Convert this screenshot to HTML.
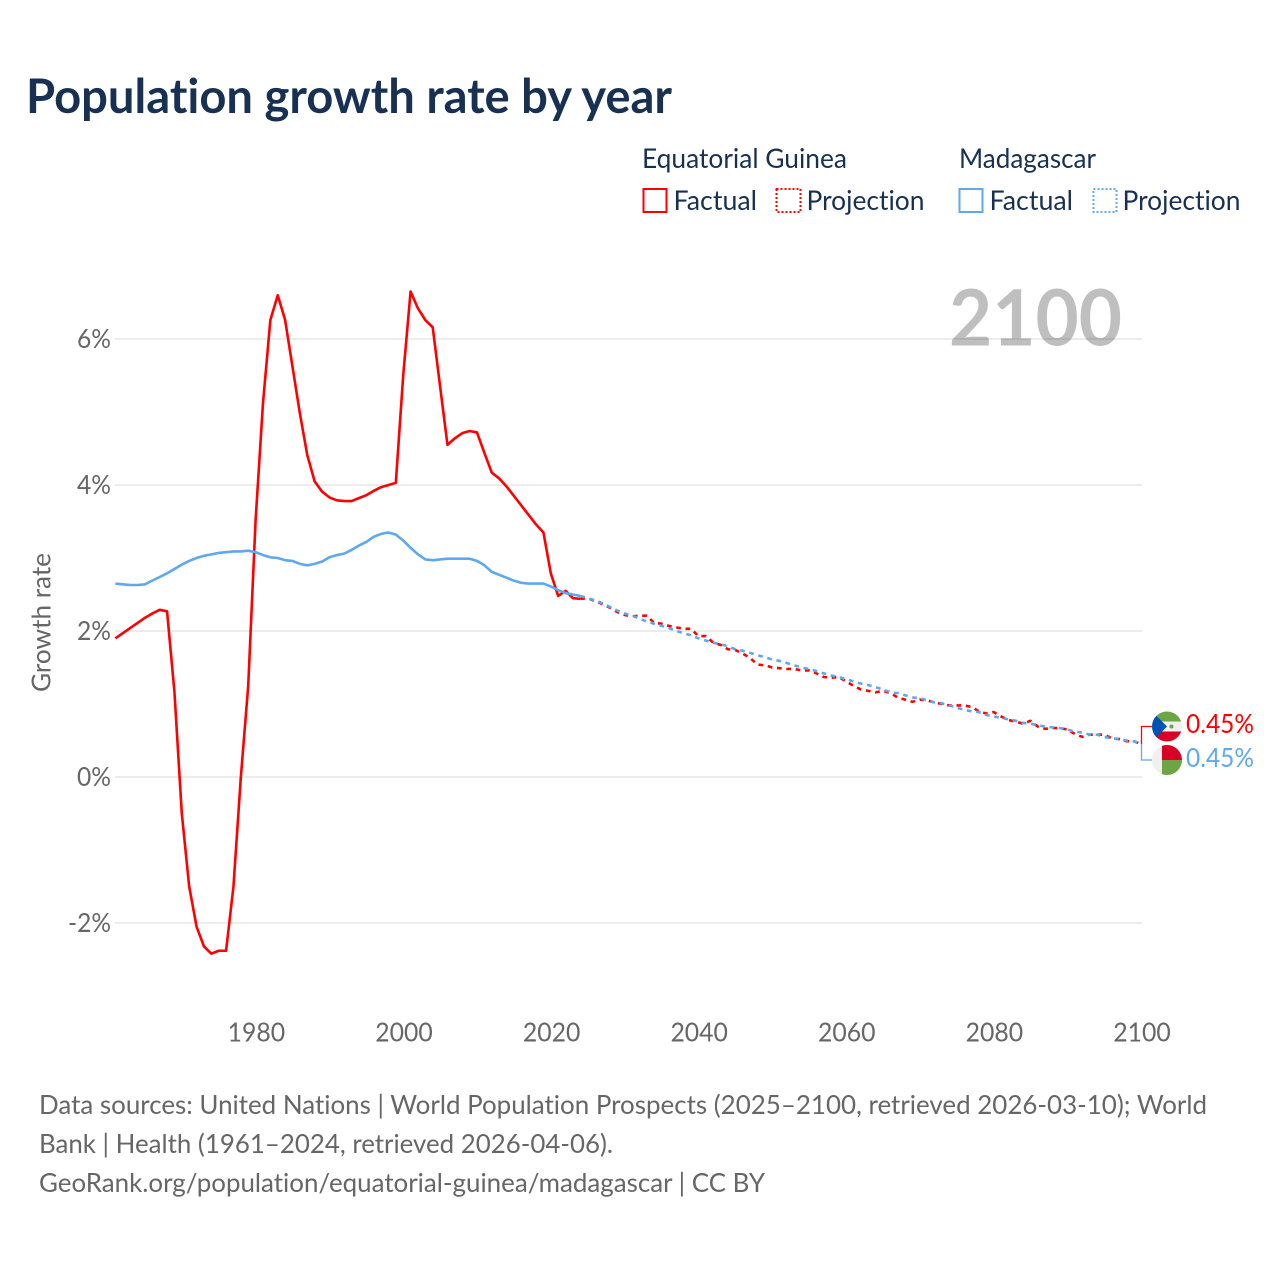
<!DOCTYPE html>
<html lang="en">
<head>
<meta charset="utf-8">
<title>Population growth rate by year</title>
<style>
html,body{margin:0;padding:0;background:#fff;}
svg{display:block;}
text{font-family:"Lato","Carlito","Liberation Sans",sans-serif;font-variant-ligatures:none;}
</style>
</head>
<body>
<svg id="chart" xmlns="http://www.w3.org/2000/svg" width="1280" height="1280" viewBox="0 0 1280 1280">
  <defs>
    <clipPath id="flag-clip-top"><circle cx="1167" cy="726.5" r="15"/></clipPath>
    <clipPath id="flag-clip-bottom"><circle cx="1167" cy="760" r="15"/></clipPath>
  </defs>
  <rect x="0" y="0" width="1280" height="1280" fill="#fff"/>
  <text x="26" y="113" font-size="48" font-weight="700" fill="#183153" textLength="646" lengthAdjust="spacingAndGlyphs">Population growth rate by year</text>

  <g font-size="27" fill="#183153">
    <text x="642" y="168" textLength="205" lengthAdjust="spacingAndGlyphs">Equatorial Guinea</text>
    <text x="959" y="168" textLength="137" lengthAdjust="spacingAndGlyphs">Madagascar</text>
    <rect x="643.5" y="189" width="23" height="23" fill="none" stroke="#ff0000" stroke-width="2"/>
    <text x="673.5" y="210" textLength="83.5" lengthAdjust="spacingAndGlyphs">Factual</text>
    <rect x="776.5" y="189" width="24" height="23" fill="none" stroke="#ff0000" stroke-width="2" stroke-dasharray="2 2"/>
    <text x="806.5" y="210" textLength="118" lengthAdjust="spacingAndGlyphs">Projection</text>
    <rect x="959.5" y="189" width="23" height="23" fill="none" stroke="#5fa8ee" stroke-width="2"/>
    <text x="989.5" y="210" textLength="83.5" lengthAdjust="spacingAndGlyphs">Factual</text>
    <rect x="1093.5" y="189" width="23" height="23" fill="none" stroke="#5fa8ee" stroke-width="2" stroke-dasharray="2 2"/>
    <text x="1122.5" y="210" textLength="118" lengthAdjust="spacingAndGlyphs">Projection</text>
  </g>

  <g id="grid"></g>
  <text x="949" y="345.5" font-size="78" font-weight="700" fill="rgba(0,0,0,0.25)" textLength="173" lengthAdjust="spacingAndGlyphs">2100</text>
  <g id="yticks"></g>
  <g id="xticks"></g>
  <text transform="translate(50.5 622.5) rotate(-90)" text-anchor="middle" font-size="26" fill="#666" textLength="139" lengthAdjust="spacingAndGlyphs">Growth rate</text>
  <g id="series"></g>

  <path id="connector-eq" fill="none" stroke="#ff0000" stroke-width="1.3"/>
  <path id="connector-mad" fill="none" stroke="#5fa8ee" stroke-width="1.3"/>

  <g clip-path="url(#flag-clip-top)">
    <rect x="1152" y="711.5" width="30" height="10" fill="#6da544"/>
    <rect x="1152" y="721.5" width="30" height="10" fill="#f0f0f0"/>
    <rect x="1152" y="731.5" width="30" height="10" fill="#d80027"/>
    <polygon points="1152,711.5 1167,726.5 1152,741.5" fill="#0052b4"/>
    <circle cx="1171.5" cy="726.5" r="2" fill="#6da544"/>
  </g>
  <g clip-path="url(#flag-clip-bottom)">
    <rect x="1152" y="745" width="10" height="30" fill="#f0f0f0"/>
    <rect x="1162" y="745" width="20" height="15" fill="#d80027"/>
    <rect x="1162" y="760" width="20" height="15" fill="#6da544"/>
  </g>
  <text id="end-label-eq" x="1186" y="733" font-size="26" fill="#ff0000" textLength="68" lengthAdjust="spacingAndGlyphs"></text>
  <text id="end-label-mad" x="1186" y="767" font-size="26" fill="#5fa8ee" textLength="68" lengthAdjust="spacingAndGlyphs"></text>

  <g font-size="26.5" fill="#666">
    <text x="39" y="1114" textLength="1168" lengthAdjust="spacingAndGlyphs">Data sources: United Nations | World Population Prospects (2025–2100, retrieved 2026-03-10); World</text>
    <text x="39" y="1153" textLength="574" lengthAdjust="spacingAndGlyphs">Bank | Health (1961–2024, retrieved 2026-04-06).</text>
    <text x="39" y="1192" textLength="726" lengthAdjust="spacingAndGlyphs">GeoRank.org/population/equatorial-guinea/madagascar | CC BY</text>
  </g>
</svg>
<script>
const yTicks = [6, 4, 2, 0, -2];
const xTicks = [1980, 2000, 2020, 2040, 2060, 2080, 2100];
const factualStartYear = 1961;
const projectionStartYear = 2024;
const eqFactual = [1.90,1.97,2.04,2.11,2.18,2.24,2.29,2.27,1.17,-0.50,-1.50,-2.05,-2.32,-2.42,-2.38,-2.38,-1.50,0.00,1.25,3.52,5.12,6.26,6.60,6.26,5.62,4.98,4.41,4.05,3.91,3.83,3.79,3.78,3.78,3.82,3.86,3.92,3.97,4.00,4.03,5.50,6.65,6.42,6.26,6.16,5.35,4.55,4.64,4.71,4.74,4.72,4.44,4.17,4.09,3.98,3.85,3.72,3.59,3.46,3.35,2.79,2.48,2.55,2.45,2.44];
const madFactual = [2.65,2.64,2.63,2.63,2.64,2.69,2.74,2.79,2.85,2.91,2.96,3.00,3.03,3.05,3.07,3.08,3.09,3.09,3.10,3.08,3.04,3.01,3.00,2.97,2.96,2.92,2.90,2.92,2.95,3.01,3.04,3.06,3.11,3.17,3.22,3.29,3.33,3.35,3.32,3.24,3.14,3.05,2.98,2.97,2.98,2.99,2.99,2.99,2.99,2.96,2.90,2.81,2.77,2.73,2.69,2.66,2.65,2.65,2.65,2.61,2.56,2.52,2.50,2.48];
const eqProjection = [2.44,2.45,2.41,2.37,2.32,2.26,2.22,2.20,2.21,2.21,2.11,2.10,2.07,2.05,2.03,2.03,1.93,1.93,1.84,1.81,1.75,1.74,1.69,1.63,1.54,1.53,1.50,1.49,1.48,1.48,1.46,1.46,1.42,1.37,1.36,1.37,1.31,1.25,1.20,1.18,1.16,1.18,1.15,1.09,1.06,1.03,1.06,1.05,1.02,1.00,0.98,0.98,0.98,0.96,0.90,0.87,0.89,0.83,0.78,0.76,0.73,0.77,0.69,0.66,0.67,0.67,0.65,0.59,0.55,0.58,0.58,0.58,0.53,0.52,0.49,0.49,0.45];
const madProjection = [2.48,2.45,2.42,2.38,2.33,2.28,2.24,2.21,2.17,2.13,2.10,2.07,2.04,2.00,1.97,1.94,1.90,1.87,1.84,1.82,1.79,1.75,1.73,1.70,1.67,1.64,1.61,1.59,1.56,1.53,1.50,1.48,1.45,1.42,1.39,1.37,1.34,1.31,1.28,1.26,1.23,1.20,1.16,1.15,1.12,1.09,1.08,1.05,1.02,1.01,0.98,0.95,0.92,0.90,0.89,0.85,0.83,0.81,0.79,0.77,0.74,0.73,0.71,0.69,0.68,0.67,0.65,0.62,0.61,0.58,0.58,0.55,0.53,0.52,0.50,0.49,0.45];

const SVG_NS = 'http://www.w3.org/2000/svg';
function xScale(year) { return 255.6 + (year - 1980) * 7.38; }
function yScale(value) { return 777 - value * 73; }
function linePath(startYear, values) {
  return values.map(function (v, i) {
    return (i ? 'L' : 'M') + xScale(startYear + i).toFixed(2) + ' ' + yScale(v).toFixed(2);
  }).join(' ');
}

const grid = document.getElementById('grid');
const yGroup = document.getElementById('yticks');
yTicks.forEach(function (t) {
  const line = document.createElementNS(SVG_NS, 'line');
  
  
  line.setAttribute('x1', 115);
  line.setAttribute('x2', 1142);
  line.setAttribute('y1', yScale(t));
  line.setAttribute('y2', yScale(t));
  line.setAttribute('stroke', '#ececec');
  line.setAttribute('stroke-width', 2);
  grid.appendChild(line);

  const label = document.createElementNS(SVG_NS, 'text');
  
  
  label.setAttribute('x', 111);
  label.setAttribute('y', yScale(t) + 9);
  label.setAttribute('text-anchor', 'end');
  label.setAttribute('font-size', 26);
  label.setAttribute('fill', '#666');
  label.setAttribute('textLength', t < 0 ? 43 : 34);
  label.setAttribute('lengthAdjust', 'spacingAndGlyphs');
  label.textContent = t + '%';
  yGroup.appendChild(label);
});

const xGroup = document.getElementById('xticks');
xTicks.forEach(function (t) {
  const label = document.createElementNS(SVG_NS, 'text');
  
  
  label.setAttribute('x', xScale(t) + 0.8);
  label.setAttribute('y', 1041.5);
  label.setAttribute('text-anchor', 'middle');
  label.setAttribute('font-size', 26);
  label.setAttribute('fill', '#666');
  label.setAttribute('textLength', 57.5);
  label.setAttribute('lengthAdjust', 'spacingAndGlyphs');
  label.textContent = t;
  xGroup.appendChild(label);
});

const seriesGroup = document.getElementById('series');
function addSeries(path, color, dashed) {
  const el = document.createElementNS(SVG_NS, 'path');
  el.setAttribute('d', path);
  el.setAttribute('fill', 'none');
  el.setAttribute('stroke', color);
  el.setAttribute('stroke-width', 2.6);
  el.setAttribute('stroke-linejoin', 'round');
  if (dashed) { el.setAttribute('stroke-dasharray', '4.7 4.7'); }
  seriesGroup.appendChild(el);
  return el;
}
const eqFactualLine = addSeries(linePath(factualStartYear, eqFactual), '#ff0000', false);


const eqProjectionLine = addSeries(linePath(projectionStartYear, eqProjection), '#ff0000', true);


const madFactualLine = addSeries(linePath(factualStartYear, madFactual), '#5fa8ee', false);


const madProjectionLine = addSeries(linePath(projectionStartYear, madProjection), '#5fa8ee', true);



const eqLast = eqProjection[eqProjection.length - 1];
const madLast = madProjection[madProjection.length - 1];
document.getElementById('connector-eq').setAttribute('d', 'M1141.5 ' + yScale(eqLast) + ' V726.5 H1152');
document.getElementById('connector-mad').setAttribute('d', 'M1141.5 ' + yScale(madLast) + ' V760 H1152');
document.getElementById('end-label-eq').textContent = eqLast.toFixed(2) + '%';
document.getElementById('end-label-mad').textContent = madLast.toFixed(2) + '%';
</script>
</body>
</html>
